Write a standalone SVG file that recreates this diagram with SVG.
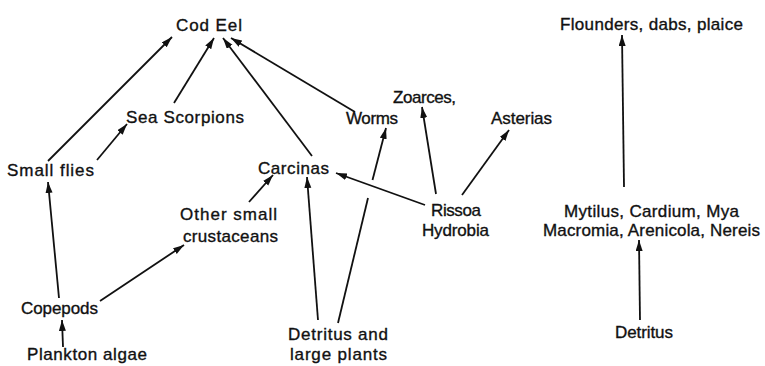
<svg xmlns="http://www.w3.org/2000/svg" width="765" height="366" viewBox="0 0 765 366">
<defs>
<style>
text{font-family:"Liberation Sans",Arial,sans-serif;font-size:17px;fill:#111;stroke:#111;stroke-width:0.35;}
.c line{stroke:#111;stroke-width:1.8;}
.c .a{marker-end:url(#ah);}
</style>
<marker id="ah" markerUnits="userSpaceOnUse" markerWidth="12" markerHeight="8" refX="11" refY="3.5" orient="auto">
<path d="M0,0 L11,3.5 L0,7 z" fill="#111"/>
</marker>
</defs>
<rect width="765" height="366" fill="#fff"/>
<g class="c" id="connectors">
<line class="a" x1="48" y1="161" x2="172" y2="37"/>
<line class="a" x1="174" y1="103" x2="214" y2="38"/>
<line class="a" x1="312" y1="156" x2="223" y2="38"/>
<line class="a" x1="355" y1="112" x2="231" y2="38"/>
<line class="a" x1="97" y1="160" x2="127" y2="124"/>
<line class="a" x1="59" y1="298" x2="48" y2="182"/>
<line class="a" x1="63" y1="347" x2="62" y2="320"/>
<line class="a" x1="100" y1="301" x2="184" y2="245"/>
<line class="a" x1="249" y1="202" x2="273" y2="175"/>
<line class="a" x1="318" y1="320" x2="307" y2="177"/>
<line x1="338" y1="323" x2="368" y2="198"/>
<line class="a" x1="372.5" y1="180" x2="386" y2="128"/>
<line class="a" x1="425" y1="205" x2="336" y2="173"/>
<line class="a" x1="436" y1="194" x2="422" y2="107"/>
<line class="a" x1="462" y1="195" x2="509" y2="130"/>
<line class="a" x1="624" y1="187" x2="622" y2="35"/>
<line class="a" x1="640" y1="320" x2="639" y2="240"/>
</g>
<g id="cod-eel"><text x="176" y="31" textLength="66">Cod Eel</text></g>
<g id="sea-scorpions"><text x="126" y="123" textLength="118">Sea Scorpions</text></g>
<g id="small-flies"><text x="7" y="176" textLength="87">Small flies</text></g>
<g id="carcinas"><text x="258" y="174" textLength="71">Carcinas</text></g>
<g id="worms"><text x="346" y="124" textLength="52">Worms</text></g>
<g id="zoarces"><text x="393" y="103" textLength="63">Zoarces,</text></g>
<g id="asterias"><text x="491" y="124" textLength="61">Asterias</text></g>
<g id="rissoa"><text x="431" y="216" textLength="50">Rissoa</text><text x="422" y="236" textLength="67">Hydrobia</text></g>
<g id="flounders"><text x="560" y="30" textLength="183">Flounders, dabs, plaice</text></g>
<g id="mytilus"><text x="564" y="217" textLength="175">Mytilus, Cardium, Mya</text><text x="543" y="236" textLength="217">Macromia, Arenicola, Nereis</text></g>
<g id="detritus"><text x="615" y="338" textLength="58">Detritus</text></g>
<g id="other-crustaceans"><text x="180" y="220" textLength="97">Other small</text><text x="183" y="242" textLength="95">crustaceans</text></g>
<g id="copepods"><text x="21" y="314" textLength="77">Copepods</text></g>
<g id="plankton"><text x="27" y="360" textLength="120">Plankton algae</text></g>
<g id="detritus-plants"><text x="288" y="340" textLength="100">Detritus and</text><text x="290" y="360" textLength="97">large plants</text></g>
</svg>
